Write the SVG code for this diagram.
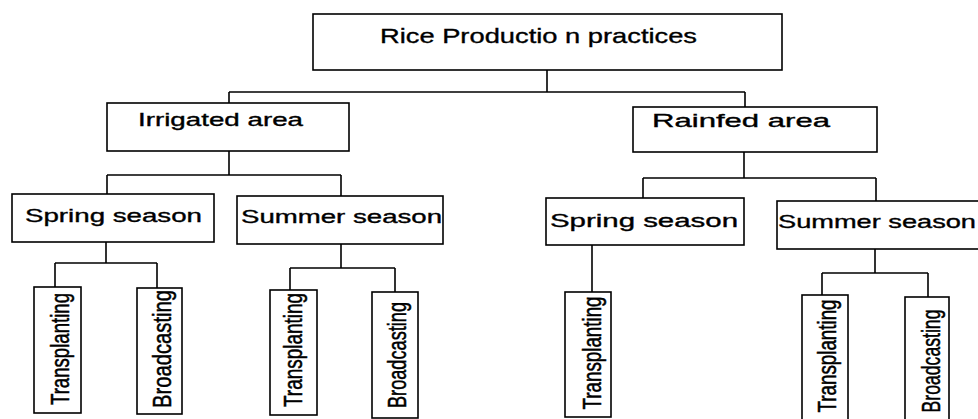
<svg xmlns="http://www.w3.org/2000/svg" width="978" height="419" viewBox="0 0 978 419">
<style>
.box{fill:#fff;stroke:#000;stroke-width:1.6}
.lbl{font-family:"Liberation Sans",Arial,sans-serif;font-size:18.5px;fill:#000;stroke:#000;stroke-width:0.35}
.top{font-size:21px}
.vt{font-family:"Liberation Sans",Arial,sans-serif;font-size:25px;fill:#000;stroke:#000;stroke-width:0.5;text-anchor:middle}
.con{fill:none;stroke:#000;stroke-width:1.6}
</style>
<rect width="978" height="419" fill="#fff"/>
<g id="connectors">
<path class="con" d="M547 70V92M229 92H745M229 92V103M745 92V107"/>
<path class="con" d="M229 151V175M107 175H341M107 175V194M341 175V196"/>
<path class="con" d="M744 152V178M643 178H876M643 178V198M876 178V201"/>
<path class="con" d="M106 242V263M55 263H157M55 263V287M157 263V288"/>
<path class="con" d="M341 244V268M290 268H395M290 268V290M395 268V292"/>
<path class="con" d="M592 245V292"/>
<path class="con" d="M875 249V273M822 273H928M822 273V295M928 273V297"/>
</g>
<g id="root"><rect class="box" x="313" y="14" width="469" height="56"/><text class="lbl top" x="380" y="43" textLength="317" lengthAdjust="spacingAndGlyphs">Rice Productio n practices</text></g>
<g id="irrigated"><rect class="box" x="107" y="103" width="242" height="48"/><text class="lbl" x="138" y="126" textLength="165" lengthAdjust="spacingAndGlyphs">Irrigated area</text></g>
<g id="rainfed"><rect class="box" x="633" y="107" width="244" height="45"/><text class="lbl" x="652" y="127" textLength="178" lengthAdjust="spacingAndGlyphs">Rainfed area</text></g>
<g id="irr-spring"><rect class="box" x="12" y="194" width="202" height="48"/><text class="lbl" x="25" y="222" textLength="177" lengthAdjust="spacingAndGlyphs">Spring season</text></g>
<g id="irr-summer"><rect class="box" x="237" y="196" width="206" height="48"/><text class="lbl" x="241" y="223" textLength="201" lengthAdjust="spacingAndGlyphs">Summer season</text></g>
<g id="rain-spring"><rect class="box" x="546" y="198" width="198" height="47"/><text class="lbl" x="550" y="227" textLength="188" lengthAdjust="spacingAndGlyphs">Spring season</text></g>
<g id="rain-summer"><rect class="box" x="777" y="201" width="215" height="48"/><text class="lbl" x="778" y="228" textLength="198" lengthAdjust="spacingAndGlyphs">Summer season</text></g>
<g id="irr-spring-trans"><rect class="box" x="34" y="287" width="47" height="126"/><text class="vt" transform="translate(69 349) rotate(-90)" textLength="112" lengthAdjust="spacingAndGlyphs">Transplanting</text></g>
<g id="irr-spring-broad"><rect class="box" x="137" y="288" width="45" height="126"/><text class="vt" transform="translate(171 349) rotate(-90)" textLength="118" lengthAdjust="spacingAndGlyphs">Broadcasting</text></g>
<g id="irr-summer-trans"><rect class="box" x="270" y="290" width="47" height="125"/><text class="vt" transform="translate(302 350) rotate(-90)" textLength="114" lengthAdjust="spacingAndGlyphs">Transplanting</text></g>
<g id="irr-summer-broad"><rect class="box" x="372" y="292" width="46" height="126"/><text class="vt" transform="translate(406 355) rotate(-90)" textLength="106" lengthAdjust="spacingAndGlyphs">Broadcasting</text></g>
<g id="rain-spring-trans"><rect class="box" x="565" y="292" width="46" height="125"/><text class="vt" transform="translate(601 353) rotate(-90)" textLength="113" lengthAdjust="spacingAndGlyphs">Transplanting</text></g>
<g id="rain-summer-trans"><rect class="box" x="802" y="295" width="46" height="130"/><text class="vt" transform="translate(836 356) rotate(-90)" textLength="113" lengthAdjust="spacingAndGlyphs">Transplanting</text></g>
<g id="rain-summer-broad"><rect class="box" x="905" y="297" width="44" height="130"/><text class="vt" transform="translate(940 361) rotate(-90)" textLength="103" lengthAdjust="spacingAndGlyphs">Broadcasting</text></g>
</svg>
